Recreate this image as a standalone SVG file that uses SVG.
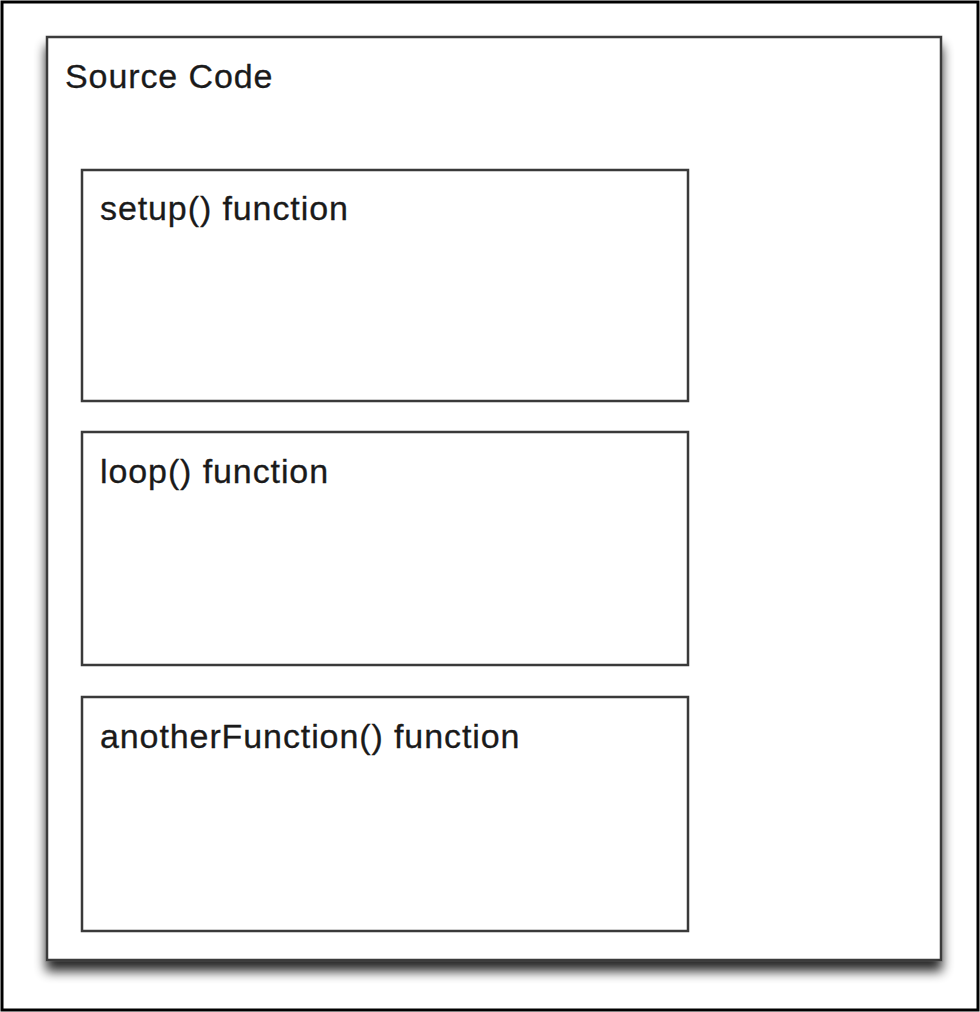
<svg xmlns="http://www.w3.org/2000/svg" width="980" height="1012" viewBox="0 0 980 1012">
<style>
.frame{fill:#fff;stroke:#000;stroke-width:3}
.box{fill:#fff;stroke:#3a3a3a;stroke-width:2.5}
.lbl{font-family:"Liberation Sans",Arial,sans-serif;font-size:34px;letter-spacing:0.9px;fill:#1a1a1a;stroke:#1a1a1a;stroke-width:0.3}
</style>
<defs>
<filter id="sh" x="-10%" y="-10%" width="125%" height="125%">
<feGaussianBlur in="SourceAlpha" stdDeviation="6"/>
<feOffset dx="0" dy="10" result="b"/>
<feComponentTransfer><feFuncA type="linear" slope="0.85"/></feComponentTransfer>
<feMerge><feMergeNode/><feMergeNode in="SourceGraphic"/></feMerge>
</filter>
</defs>
<rect class="frame" x="2" y="2" width="976" height="1008"/>
<g id="source-code">
<rect class="box" x="47" y="37" width="894" height="923" filter="url(#sh)"/>
<text class="lbl" x="65" y="88">Source Code</text>
</g>
<g id="setup">
<rect class="box" x="82" y="170" width="606" height="231"/>
<text class="lbl" x="100" y="220">setup() function</text>
</g>
<g id="loop">
<rect class="box" x="82" y="432" width="606" height="233"/>
<text class="lbl" x="100" y="483">loop() function</text>
</g>
<g id="another">
<rect class="box" x="82" y="697" width="606" height="234"/>
<text class="lbl" x="100" y="748">anotherFunction() function</text>
</g>
<g id="connectors"/>
</svg>
